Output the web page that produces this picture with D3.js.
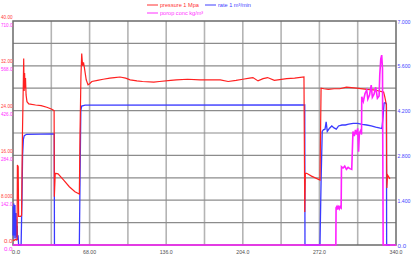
<!DOCTYPE html>
<html><head><meta charset="utf-8">
<script src="https://cdn.jsdelivr.net/npm/d3@7"></script>
<style>
html,body{margin:0;padding:0;background:#fff;}
svg{display:block;font-family:"Liberation Sans",Arial,sans-serif;}
</style></head>
<body><svg id="c" width="413" height="260"></svg>
<script>
// ---- data ----
const xTickLabels = ["0.0","68.00","136.0","204.0","272.0","340.0"];
const xTickValues = [0,68,136,204,272,340];
const pressureLabels = ["40.00","32.00","24.00","16.00","8.000","0.0"];
const concLabels = ["710.0","568.0","426.0","284.0","142.0","0.0"];
const rateLabels = ["7.000","5.600","4.200","2.800","1.400","0.0"];
const legendNames = ["pressure 1 Mpa","rate 1 m³/min","porop conc kg/m³"];

// pressure [time, MPa]
const pressure = [
 [0,0.9],[1,0.8],[2,1.0],[3,0.9],[3.6,1.0],[3.9,14.3],[4.6,14.0],[5.0,5.1],[6.8,5.1],[7.6,5.3],
 [8.4,20],[9.0,27],[9.5,33.3],[9.9,27.5],[10.3,30.7],[10.7,28],[11.1,29.8],[11.6,26.8],[12.4,25.6],
 [14,25.2],[20,25.0],[25,24.9],[30,24.6],[34,24.3],[36.5,24.0],[36.7,8.6],[37.5,12.8],[40,12.7],
 [45,11.6],[50,10.4],[55,9.5],[58.9,9.1],[59.5,20],[60.3,30],[61,34.2],[61.8,32.0],[62.6,32.6],
 [63.5,31.5],[65,29.5],[66.6,28.6],[68,28.8],[70,29.2],[75,29.4],[80,29.6],[86,29.8],[90,29.9],
 [95,30.0],[100,29.8],[104,29.5],[110,29.3],[115,29.2],[125,29.1],[130,29.2],[140,29.4],[145,29.5],
 [155,29.6],[166,29.5],[175,29.5],[184,29.5],[191,29.2],[198,29.4],[204,29.6],[210,29.8],[213,29.9],
 [217.5,29.3],[222,29.7],[226,29.9],[232,29.4],[243,29.7],[250,29.8],[258.3,30.0],[259,5.9],
 [259.5,12.8],[260.7,12.8],[265,12.3],[272.5,11.6],[273.5,28.0],[276,27.9],[280,27.8],[285,27.9],
 [290,27.9],[296,28.2],[305,28.0],[314,27.8],[320,27.7],[325,27.5],[329,27.3],[330,26.5],[331.5,25],
 [331.7,14.6],[331.9,10.2],[332.5,12.5],[334.6,11.8]
];
// rate [time, m3/min]
const rate = [
 [0,0.3],[0.25,1.2],[0.5,0.4],[0.75,1.3],[1.0,0.2],[1.25,1.1],[1.5,0.5],[1.75,1.25],[2.0,0.3],
 [2.25,0.9],[2.5,0.2],[2.75,1.0],[3.0,0.4],[3.25,0.8],[3.5,0.25],[3.75,0.6],[4.0,0.15],[4.5,0.3],
 [5,0],[7.2,0],[8,1.5],[8.5,2.8],[9.2,3.3],[10,3.42],[12,3.46],[36.6,3.47],[36.8,0],[58.9,0],
 [59.5,2.0],[60.2,4.2],[61,4.34],[64,4.37],[259,4.38],[259.2,0],[272.5,0],[273.5,2.0],[274.5,3.55],
 [275.5,3.6],[277,3.62],[278,3.85],[279,3.55],[281,3.65],[283,3.72],[285,3.66],[287,3.62],[289,3.72],
 [292,3.75],[295,3.75],[298,3.78],[302,3.8],[306,3.8],[310,3.77],[314,3.75],[318,3.72],[322,3.68],
 [326,3.65],[327.5,3.64],[328.5,4.0],[329.4,4.43],[330.5,4.45],[331.5,4.4],[331.7,0],[334.6,0]
];
// proppant concentration [time, kg/m3]
const conc = [
 [0,0],[286.6,0],[286.8,118],[287.5,122],[288.2,112],[289,125],[289.8,115],[290.6,121],[291.3,118],
 [291.6,248],[293,244],[294.5,250],[296,240],[297.5,246],[299,242],[300.7,240],[301.8,360],[303,345],
 [304,365],[305,350],[306,370],[306.8,296],[307.5,355],[308.5,362],[309.4,350],[309.6,470],[311,455],
 [312.5,480],[314,491],[315,462],[316.5,475],[318,507],[319,468],[320.5,478],[322,500],[323.5,465],
 [325,472],[325.6,540],[326.5,590],[327.3,602],[328,560],[328.6,0],[340,0]
];

// ---- layout ----
const L = 13, R = 396, T = 21, B = 245;
const svg = d3.select("#c");
const x = d3.scaleLinear().domain([0,340]).range([L,R]);
const yP = d3.scaleLinear().domain([0,40]).range([B,T]);
const yR = d3.scaleLinear().domain([0,7]).range([B,T]);
const yC = d3.scaleLinear().domain([0,710]).range([B,T]);

// grid
const g = svg.append("g");
g.selectAll("line.v").data(d3.range(34,340,34)).join("line")
 .attr("x1",d=>x(d)).attr("x2",d=>x(d)).attr("y1",T).attr("y2",B)
 .attr("stroke","#b4b4b4").attr("stroke-width",1.6);
g.selectAll("line.h").data(d3.range(1,10).map(i=>i*0.7)).join("line")
 .attr("x1",L).attr("x2",R).attr("y1",d=>yR(d)).attr("y2",d=>yR(d))
 .attr("stroke","#8c8c8c").attr("stroke-width",1.2);
g.append("rect").attr("x",L).attr("y",T).attr("width",R-L).attr("height",B-T)
 .attr("fill","none").attr("stroke","#6a6a6a").attr("stroke-width",1.5);

// series
const line = (ys)=>d3.line().x(d=>x(d[0])).y(d=>ys(d[1]));
svg.append("path").datum(rate).attr("d",line(yR)).attr("fill","none")
 .attr("stroke","#3a3aff").attr("stroke-width",1.3);
svg.append("path").datum(pressure).attr("d",line(yP)).attr("fill","none")
 .attr("stroke","#ff2020").attr("stroke-width",1.2);
svg.append("path").datum(conc).attr("d",line(yC)).attr("fill","none")
 .attr("stroke","#ff20ff").attr("stroke-width",1.6);

// axes labels
const fs = 6.2;
function fit(sel, t, w){
  if (t.length >= 5) sel.attr("textLength", w).attr("lengthAdjust","spacingAndGlyphs");
  return sel;
}
const axisL = svg.append("g").attr("font-size",fs).attr("text-anchor","end");
pressureLabels.forEach((t,i)=>{
  const v = 40 - i*8;
  fit(axisL.append("text").attr("x",L-0.5).attr("y",yP(v)-2.5).attr("fill","#ff4040").text(t), t, 11.5);
});
concLabels.forEach((t,i)=>{
  const v = 710 - i*142;
  fit(axisL.append("text").attr("x",L-0.5).attr("y",yC(v)+5.5).attr("fill","#ff30ff").text(t), t, 11.5);
});
const axisR = svg.append("g").attr("font-size",fs).attr("text-anchor","start");
rateLabels.forEach((t,i)=>{
  const v = 7 - i*1.4;
  fit(axisR.append("text").attr("x",R+1.5).attr("y",yR(v)+2.5).attr("fill","#4848ff").text(t), t, 13);
});
const axisB = svg.append("g").attr("font-size",fs).attr("text-anchor","middle");
xTickValues.forEach((v,i)=>{
  fit(axisB.append("text").attr("x",x(v)+(i===0?3:0)).attr("y",254).attr("fill","#505050").text(xTickLabels[i]), xTickLabels[i], 13);
});

// legend
const leg = svg.append("g").attr("font-size",5.6);
const legItems = [
 {n:legendNames[0], c:"#ff3030", x:147, y:5},
 {n:legendNames[1], c:"#4040ff", x:205, y:5},
 {n:legendNames[2], c:"#ff30ff", x:147, y:13}
];
legItems.forEach(d=>{
  leg.append("line").attr("x1",d.x).attr("x2",d.x+11).attr("y1",d.y).attr("y2",d.y)
   .attr("stroke",d.c).attr("stroke-width",1);
  leg.append("text").attr("x",d.x+13).attr("y",d.y+2).attr("fill",d.c).text(d.n);
});
</script></body></html>
